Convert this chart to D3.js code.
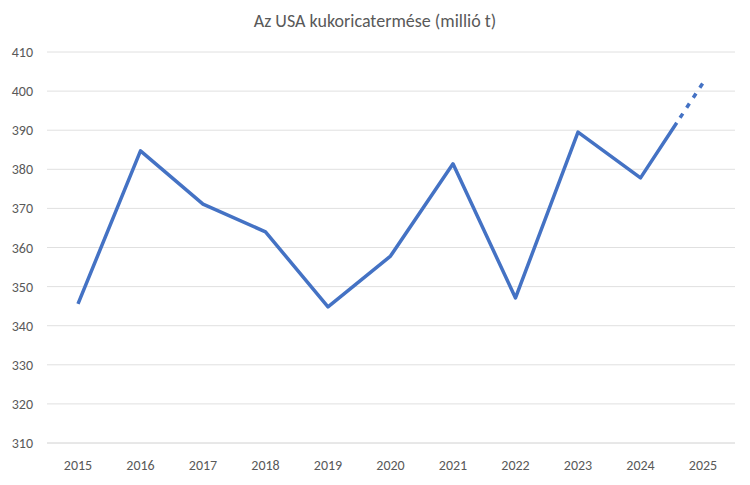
<!DOCTYPE html><html><head><meta charset="utf-8"><script src="https://cdn.jsdelivr.net/npm/d3@7"></script>
<style>body{margin:0;background:#fff}text{font-family:Calibri,Carlito,"Liberation Sans",sans-serif}</style></head><body><svg id="c" width="750" height="485"></svg><script>
const years=["2015","2016","2017","2018","2019","2020","2021","2022","2023","2024","2025"];
const values=[345.6,384.7,371.1,364.0,344.8,357.8,381.4,347.1,389.5,377.8,402.1];
const yTicks=[310,320,330,340,350,360,370,380,390,400,410];
const title="Az USA kukoricatermése (millió t)";
const svg=d3.select("#c");
const x=d3.scalePoint().domain(years).range([78,703]);
const y=d3.scaleLinear().domain([310,410]).range([443,52]);
svg.append("text").attr("x",375).attr("y",27).attr("text-anchor","middle").attr("font-size",18).attr("fill","#595959").text(title);
svg.append("g").selectAll("line").data(yTicks).join("line").attr("x1",47).attr("x2",735).attr("y1",d=>y(d)).attr("y2",d=>y(d)).attr("stroke",d=>d===310?"#d0d0d0":"#e0e0e0").attr("stroke-width",1);
svg.append("g").selectAll("text").data(yTicks).join("text").attr("x",33).attr("y",d=>y(d)+5).attr("text-anchor","end").attr("font-size",14).attr("fill","#595959").text(d=>d);
svg.append("g").selectAll("text").data(years).join("text").attr("x",d=>x(d)).attr("y",470).attr("text-anchor","middle").attr("font-size",14).attr("fill","#595959").text(d=>d);
const pts=years.map((d,i)=>[x(d),y(values[i])]);
const n=pts.length,f=0.58;
const a=pts[n-2],b=pts[n-1];
const mid=[a[0]+(b[0]-a[0])*f,a[1]+(b[1]-a[1])*f];
const line=d3.line();
svg.append("path").attr("d",line(pts.slice(0,n-1).concat([mid]))).attr("fill","none").attr("stroke","#4472c4").attr("stroke-width",3.5).attr("stroke-linejoin","round");
svg.append("path").attr("d",line([mid,b])).attr("fill","none").attr("stroke","#4472c4").attr("stroke-width",3.5).attr("stroke-dasharray","5,7").attr("stroke-dashoffset",-6);
</script></body></html>
